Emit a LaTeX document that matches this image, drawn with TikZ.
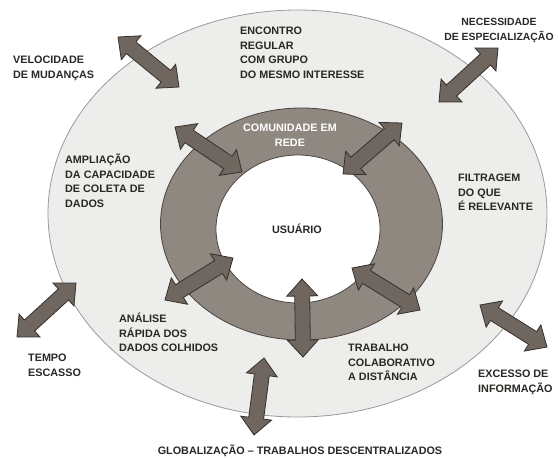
\documentclass[tikz,border=0pt]{standalone}
\usepackage{fontspec}
\setmainfont{Liberation Sans}
\usetikzlibrary{calc,shapes.geometric}
\definecolor{outerfill}{HTML}{EDEDEC}
\definecolor{outerline}{HTML}{9A9A9A}
\definecolor{ringfill}{HTML}{8F8881}
\definecolor{ringline}{HTML}{4A4440}
\definecolor{arrfill}{HTML}{6F675F}
\definecolor{arrline}{HTML}{35302C}
\definecolor{txt}{HTML}{2A2724}
\def\arrHL{17pt}\def\arrHW{15.5pt}\def\arrSW{7.5pt}
\newcommand\blockarrow[2]{%
\filldraw[blk] (#1) -- ($(#1)!\arrHL!(#2)!\arrHW!-90:(#2)$) -- ($(#1)!\arrHL!(#2)!\arrSW!-90:(#2)$)
 -- ($(#2)!\arrHL!(#1)!\arrSW!90:(#1)$) -- ($(#2)!\arrHL!(#1)!\arrHW!90:(#1)$) -- (#2)
 -- ($(#2)!\arrHL!(#1)!\arrHW!-90:(#1)$) -- ($(#2)!\arrHL!(#1)!\arrSW!-90:(#1)$)
 -- ($(#1)!\arrHL!(#2)!\arrSW!90:(#2)$) -- ($(#1)!\arrHL!(#2)!\arrHW!90:(#2)$) -- cycle;}
\tikzset{
 blk/.style={fill=arrfill, draw=arrline, line width=0.8pt, line join=miter},
 lbl/.style={inner sep=0pt, align=left, anchor=base west, text=txt,
   font=\fontsize{10.8}{14.5}\selectfont\bfseries},
 clbl/.style={lbl, align=center, anchor=base},
}
\begin{document}
\begin{tikzpicture}[x=1pt,y=-1pt]
\useasboundingbox (0,0) rectangle (558,459);
\fill[white] (0,0) rectangle (558,459);
\node[ellipse, draw=outerline, fill=outerfill, line width=0.8pt, inner sep=0pt,
  minimum width=499pt, minimum height=407pt] (outer) at (297.5,213.5) {};
\node[ellipse, draw=ringline, fill=ringfill, line width=0.8pt, inner sep=0pt,
  minimum width=282pt, minimum height=232pt] (ring) at (301.5,224) {};
\node[ellipse, draw=ringline, fill=white, line width=0.8pt, inner sep=0pt,
  minimum width=164pt, minimum height=148pt] (core) at (298,229) {};
% arrow end points
\coordinate (a1s) at (118,37);  \coordinate (a1e) at (179,87);
\coordinate (a2s) at (175,127); \coordinate (a2e) at (242,172);
\coordinate (a3s) at (402,123); \coordinate (a3e) at (343,174);
\coordinate (a4s) at (498,48);  \coordinate (a4e) at (439,102);
\coordinate (a5s) at (76,283);  \coordinate (a5e) at (17,337);
\coordinate (a6s) at (233,258); \coordinate (a6e) at (165,300);
\coordinate (a7s) at (264,358); \coordinate (a7e) at (254,435);
\coordinate (a8s) at (302,279); \coordinate (a8e) at (303,357);
\coordinate (a9s) at (352,268); \coordinate (a9e) at (420,310);
\coordinate (a10s) at (480,305); \coordinate (a10e) at (547,347);
\blockarrow{a1s}{a1e}
\blockarrow{a2s}{a2e}
\blockarrow{a3s}{a3e}
\blockarrow{a4s}{a4e}
\blockarrow{a5s}{a5e}
\blockarrow{a6s}{a6e}
\blockarrow{a7s}{a7e}
\blockarrow{a8s}{a8e}
\blockarrow{a9s}{a9e}
\blockarrow{a10s}{a10e}
% labels (anchor = baseline of last line)
\node[lbl] (vel) at (13,78.25) {VELOCIDADE\\DE MUDANÇAS};
\node[lbl] (enc) at (240,78.25) {ENCONTRO\\REGULAR\\COM GRUPO\\DO MESMO INTERESSE};
\node[clbl, font=\fontsize{10.4}{14.5}\selectfont\bfseries] (nec) at (499,40.25) {NECESSIDADE\\DE ESPECIALIZAÇÃO};
\node[clbl, text=white] (com) at (290,146.25) {COMUNIDADE EM\\REDE};
\node[lbl] (amp) at (65,207.25) {AMPLIAÇÃO\\DA CAPACIDADE\\DE COLETA DE\\DADOS};
\node[lbl] (fil) at (458,210.75) {FILTRAGEM\\DO QUE\\É RELEVANTE};
\node[clbl] (usu) at (297,233.75) {USUÁRIO};
\node[lbl] (ana) at (119,351.75) {ANÁLISE\\RÁPIDA DOS\\DADOS COLHIDOS};
\node[lbl] (tem) at (28,376.25) {TEMPO\\ESCASSO};
\node[lbl] (tra) at (348,380.75) {TRABALHO\\COLABORATIVO\\A DISTÂNCIA};
\node[lbl] (exc) at (478,392.25) {EXCESSO DE\\INFORMAÇÃO};
\node[clbl] (glo) at (300,454.75) {GLOBALIZAÇÃO – TRABALHOS DESCENTRALIZADOS};
\end{tikzpicture}
\end{document}
